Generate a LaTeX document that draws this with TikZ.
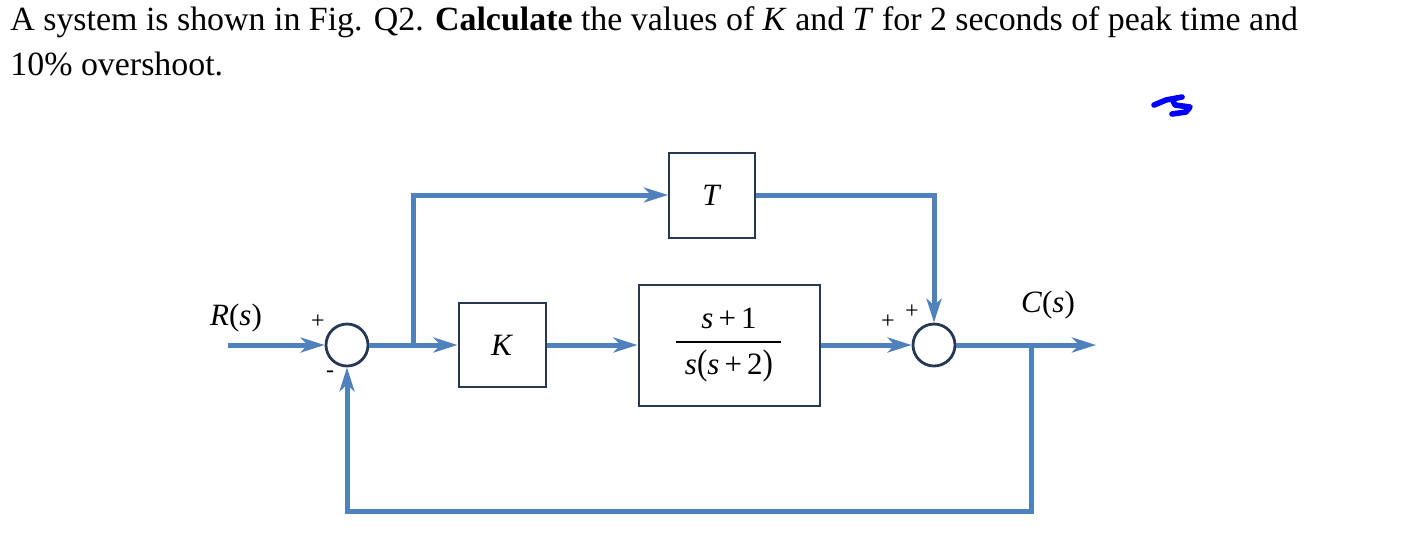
\documentclass[tikz,border=0pt]{standalone}
\usepackage{fontspec}
\setmainfont{Liberation Serif}
\usetikzlibrary{arrows.meta}
\definecolor{sigblue}{RGB}{79,129,189}
\definecolor{boxcol}{RGB}{38,56,84}
\begin{document}
\begin{tikzpicture}[x=0.5pt,y=-0.5pt,
  sig/.style={draw=sigblue, line width=2.5pt, -{Stealth[length=12pt,width=7.5pt,inset=3.5pt]}},
  blockbox/.style={draw=boxcol, line width=1pt, fill=white, inner sep=0pt, font=\fontsize{15.5}{18}\selectfont},
  sumnode/.style={circle, draw=boxcol, line width=1.4pt, fill=white, minimum size=21pt, inner sep=0pt},
  lbl/.style={inner sep=0pt, font=\fontsize{15.5}{18}\selectfont},
  sgn/.style={inner sep=0pt, font=\fontsize{12}{14}\selectfont},
  qtext/.style={inner sep=0pt, anchor=base west, font=\fontsize{16.95}{20}\selectfont}
]
\useasboundingbox (0,0) rectangle (1406,538);
% question text
\node[qtext] (q1) at (10,30) {A system is shown in Fig. Q2. \textbf{Calculate} the values of \textit{K} and \textit{T} for 2 seconds of peak time and};
\node[qtext] (q2) at (10,75) {10\% overshoot.};
% scribble
\draw[blue, line width=2.8pt, line cap=round, line join=round] (1154,105) -- (1166,100) -- (1182,97);
\draw[blue, line width=2.8pt, line cap=round, line join=round] (1172,99) -- (1175,105) -- (1190,107) -- (1186,112) -- (1172,114);
% blocks
\node[blockbox, minimum width=43pt, minimum height=42.5pt] (T) at (712,195) {\textit{T}};
\node[blockbox, minimum width=43.5pt, minimum height=42pt] (K) at (502,345) {\textit{K}};
\node[blockbox, minimum width=90.5pt, minimum height=60.5pt] (G) at (729,345) {};
\node[lbl] (num) at (729,318) {\textit{s}\,+\,1};
\node[lbl] (den) at (729,366) {\textit{s}\scalebox{1}[1.15]{(}\textit{s}\,+\,2\scalebox{1}[1.15]{)}};
\draw[black, line width=0.6pt] (676,342) -- (781,342);
% summing junctions
\node[sumnode] (s1) at (347,345) {};
\node[sumnode] (s2) at (934,345) {};
% coordinates
\coordinate (in) at (228,345);
\coordinate (br) at (413,345);
\coordinate (tap) at (1031,345);
\coordinate (out) at (1096,345);
\coordinate (fb) at (347,511);
% connectors
\draw[sig] (in) -- (s1.west);
\draw[sig] (s1.east) -- (K.west);
\draw[sig] (K.east) -- (G.west);
\draw[sig] (G.east) -- (s2.west);
\draw[sig] (s2.east) -- (out);
\draw[sig] (br) |- (T.west);
\draw[sig] (T.east) -| (s2.north);
\draw[sig] (tap) |- (fb) -- (s1.south);
% labels
\node[lbl] (R) at (236,318) {\textit{R}(\textit{s})};
\node[lbl] (C) at (1048,305) {\textit{C}(\textit{s})};
\node[sgn] (p1) at (318,322) {+};
\node[sgn] (m1) at (330,374) {-};
\node[sgn] (p2) at (888,322) {+};
\node[sgn] (p3) at (912,312) {+};
\end{tikzpicture}
\end{document}
